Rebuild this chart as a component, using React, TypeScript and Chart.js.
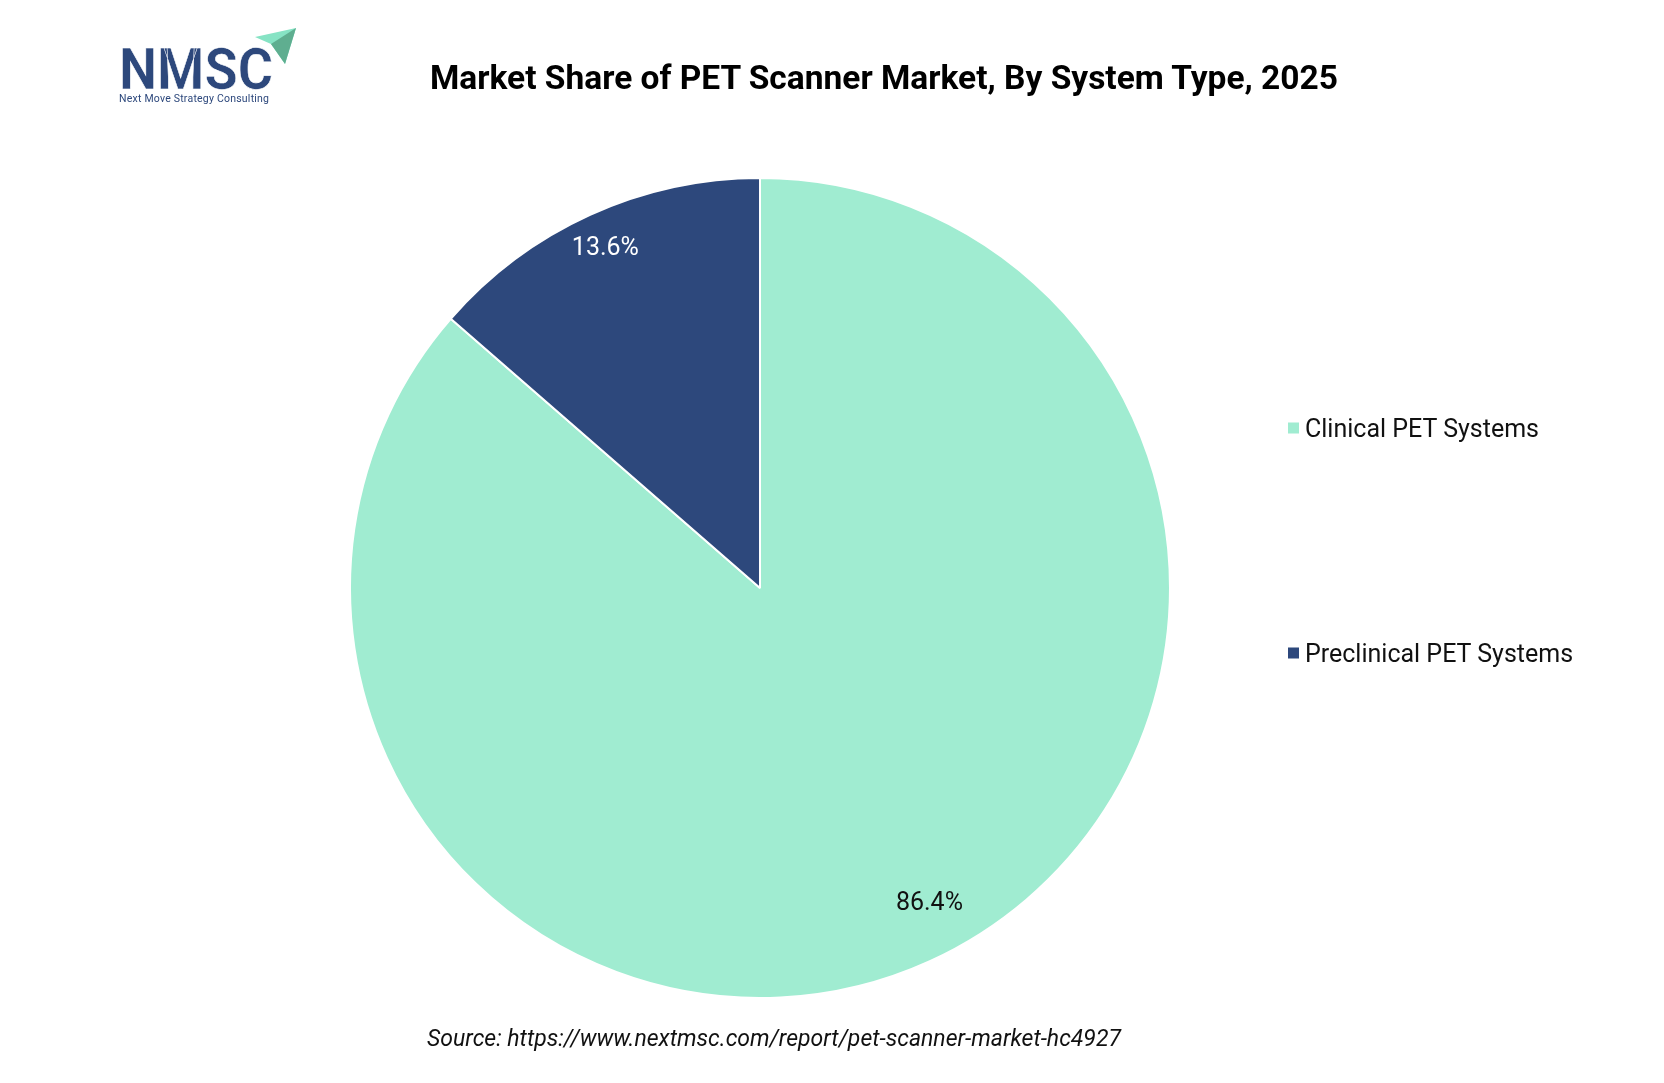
import { useEffect, useRef } from "react";
import { Chart, registerables } from "chart.js";
import type { ChartConfiguration, Plugin } from "chart.js";

Chart.register(...registerables);

const TITLE = "Market Share of PET Scanner Market, By System Type, 2025";
const SOURCE = "Source: https://www.nextmsc.com/report/pet-scanner-market-hc4927";
const SYSTEM_TYPES = ["Clinical PET Systems", "Preclinical PET Systems"];
const SHARES = [86.4, 13.6];
const COLORS = ["#a0ecd1", "#2d487c"];
const LABEL_COLORS = ["#111111", "#ffffff"];
// where each percent label sits: share of the radius, and a small turn off the bisector (deg)
const LABEL_RADIUS = [0.875, 0.91];
const LABEL_TURN = [-3.7, 0];

const W = 1664;
const H = 1083;

// draws "86.4%" style labels inside the slices
const sliceLabels: Plugin<"pie"> = {
  id: "sliceLabels",
  afterDatasetsDraw(chart) {
    const ctx = chart.ctx;
    const meta = chart.getDatasetMeta(0);
    ctx.save();
    ctx.font = "25px Roboto";
    ctx.textAlign = "center";
    ctx.textBaseline = "middle";
    meta.data.forEach((el, i) => {
      const a = el as any;
      const mid = (a.startAngle + a.endAngle) / 2 + (LABEL_TURN[i] * Math.PI) / 180;
      const r = a.outerRadius * LABEL_RADIUS[i];
      ctx.fillStyle = LABEL_COLORS[i];
      ctx.fillText(SHARES[i].toFixed(1) + "%", a.x + Math.cos(mid) * r, a.y + Math.sin(mid) * r);
    });
    ctx.restore();
  },
};

function Logo() {
  return (
    <svg width={200} height={90} style={{ position: "absolute", left: 115, top: 22 }}>
      <polygon points="140,15 181,6 170,42 156,22" fill="#86e3c4" />
      <polygon points="156,22 181,6 170,42" fill="#5fae90" />
      <text
        x={4}
        y={67}
        fontFamily="Roboto"
        fontWeight="bold"
        fontSize={58}
        textLength={154}
        lengthAdjust="spacingAndGlyphs"
        fill="#2d487c"
        stroke="#ffffff"
        strokeWidth={0.6}
      >
        NMSC
      </text>
      <text x={4} y={80} fontFamily="Roboto" fontSize={10.5} textLength={150} fill="#2d487c">
        Next Move Strategy Consulting
      </text>
    </svg>
  );
}

export default function App() {
  const canvasRef = useRef<HTMLCanvasElement | null>(null);

  useEffect(() => {
    if (!canvasRef.current) return;
    const config: ChartConfiguration<"pie"> = {
      type: "pie",
      data: {
        labels: SYSTEM_TYPES,
        datasets: [
          {
            data: SHARES,
            backgroundColor: COLORS,
            borderColor: "#ffffff",
            borderWidth: 2,
          },
        ],
      },
      options: {
        animation: false,
        responsive: false,
        layout: { padding: { left: 349, right: W - 1171, top: 177, bottom: H - 999 } },
        plugins: {
          legend: { display: false },
          tooltip: { enabled: false },
        },
      },
      plugins: [sliceLabels],
    };
    const chart = new Chart(canvasRef.current, config);
    return () => chart.destroy();
  }, []);

  return (
    <div style={{ position: "relative", width: W, height: H, margin: -8, background: "#fff", fontFamily: "Roboto" }}>
      <canvas ref={canvasRef} width={W} height={H} style={{ position: "absolute", left: 0, top: 0 }} />
      <Logo />
      <div
        style={{
          position: "absolute",
          left: 884,
          top: 77,
          transform: "translate(-50%, -50%)",
          whiteSpace: "nowrap",
          fontSize: 33.5,
          fontWeight: "bold",
          color: "#000",
        }}
      >
        {TITLE}
      </div>
      {SYSTEM_TYPES.map((name, i) => (
        <div
          key={name}
          style={{
            position: "absolute",
            left: 1288,
            top: [428, 653][i],
            transform: "translateY(-50%)",
            display: "flex",
            alignItems: "center",
            fontSize: 25,
            color: "#111",
            whiteSpace: "nowrap",
          }}
        >
          <span style={{ width: 11, height: 11, background: COLORS[i], marginRight: 6, display: "inline-block" }} />
          {name}
        </div>
      ))}
      <div
        style={{
          position: "absolute",
          left: 774,
          top: 1038,
          transform: "translate(-50%, -50%)",
          whiteSpace: "nowrap",
          fontSize: 23,
          fontStyle: "italic",
          color: "#111",
        }}
      >
        {SOURCE}
      </div>
    </div>
  );
}
